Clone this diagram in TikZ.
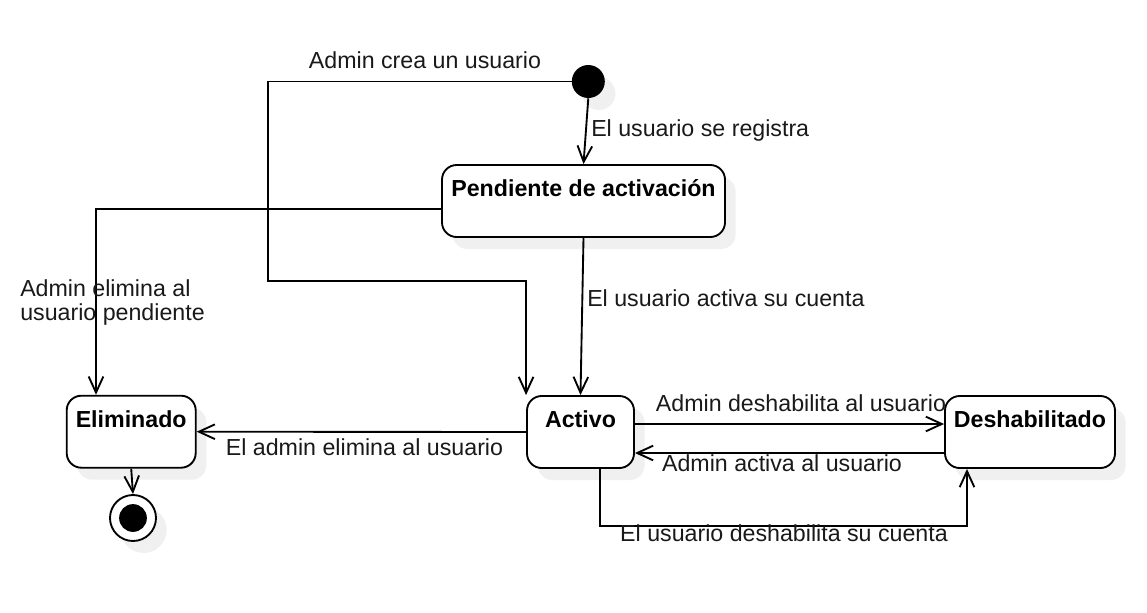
\documentclass[tikz,border=0pt]{standalone}
\usepackage{fontspec}
\setmainfont{Liberation Sans}
\usetikzlibrary{arrows.meta,shadows}
\newcommand{\dfont}{\fontsize{17.4pt}{17.5pt}\selectfont}
\newcommand{\snode}[5]{\node[state,minimum width=#4*0.75pt] (#1) at (#2,#3) {#5};}
\newcommand{\tlabel}[5]{\node[lbl,anchor=#4] (#1) at (#2,#3) {#5};}
\tikzset{
  shade/.style={drop shadow={shadow xshift=8pt,shadow yshift=-9pt,fill=black!6,opacity=1}},
  state/.style={draw,line width=1.4pt,rounded corners=11pt,fill=white,shade,
    minimum height=54pt,inner sep=0pt,font=\dfont\bfseries,
    text height=23.5pt,text depth=30.5pt},
  initst/.style={circle,fill=black,inner sep=0pt,minimum size=24.75pt,shade},
  finalst/.style={circle,draw,fill=white,line width=1.4pt,inner sep=0pt,minimum size=34.5pt,shade},
  lbl/.style={font=\dfont,text=black!90,inner sep=0pt,align=left},
  trans/.style={draw,line width=1.4pt,-{Straight Barb[length=12pt,width=11pt]}}
}
\begin{document}
\begin{tikzpicture}[x=0.75pt,y=-0.75pt]
\useasboundingbox (0,0) rectangle (1147,612);
% ---- states
\node[initst] (init) at (588.3,81.5) {};
\snode{pend}{583.5}{201}{283}{Pendiente de activación}
\snode{elim}{131.2}{431.7}{129}{Eliminado}
\snode{act}{580.5}{432}{107}{Activo}
\snode{desh}{1030}{432}{170}{Deshabilitado}
\node[finalst] (final) at (133,518) {};
\fill (final) circle[radius=10.4pt];

% ---- transitions
\draw[trans] (init.west) -| (268,281) -| (act.north west);
\draw[trans] (init.south) -- (pend.north);
\draw[trans] ([yshift=-6pt]pend.west) -| ([xshift=-26.4pt]elim.north);
\draw[trans] (pend.south) -- (act.north);
\draw[trans] (elim.south) -- (final.north);
\draw[trans] (act.west) -- (elim.east);
\draw[trans] ([yshift=6pt]act.east) -- ([yshift=6pt]desh.west);
\draw[trans] ([yshift=-15.75pt]desh.west) -- ([yshift=-15.75pt]act.east);
\draw[trans] ([xshift=14.6pt]act.south) -- ++(0,57) -| ([xshift=-47.25pt]desh.south);

% ---- transition labels
\tlabel{lcrea}{425}{68.3}{base}{Admin crea un usuario}
\tlabel{lreg}{591}{136}{base west}{El usuario se registra}
\tlabel{lact}{587}{306}{base west}{El usuario activa su cuenta}
\tlabel{lpend}{20}{320}{base west}{Admin elimina al\\usuario pendiente}
\tlabel{lelim}{364.5}{455.5}{base}{El admin elimina al usuario}
\tlabel{ldesh}{801}{411.7}{base}{Admin deshabilita al usuario}
\tlabel{lhab}{782}{471.7}{base}{Admin activa al usuario}
\tlabel{lusdes}{784}{541.7}{base}{El usuario deshabilita su cuenta}
\end{tikzpicture}
\end{document}
